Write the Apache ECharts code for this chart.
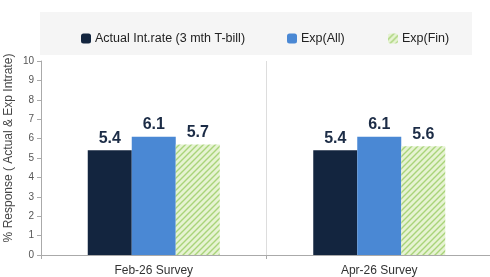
<!DOCTYPE html>
<html>
<head>
    <meta charset="UTF-8">
    <title></title>
    <script src="https://cdn.jsdelivr.net/npm/echarts@6/dist/echarts.min.js"></script>
    <style>
        * { padding: 0; margin: 0; }
        body { background: #fff; }
        #container { width: 490px; height: 277px; }
    </style>
</head>
<body>
    <div id="container"></div>
<script>
    var categories = ['Feb-26 Survey', 'Apr-26 Survey'];
    var seriesNames = ['Actual Int.rate (3 mth T-bill)', 'Exp(All)', 'Exp(Fin)'];
    var actualRate = [5.4, 5.4];
    var expAll = [6.1, 6.1];
    var expFin = [5.7, 5.6];

    var FONT = '"Liberation Sans", Arial, sans-serif';

    // hatched fill for Exp(Fin)
    function hatch() {
        var c = document.createElement('canvas');
        c.width = 6; c.height = 6;
        var ctx = c.getContext('2d');
        ctx.fillStyle = '#e6f3d2';
        ctx.fillRect(0, 0, 6, 6);
        ctx.strokeStyle = '#a9d47a';
        ctx.lineWidth = 1.4;
        ctx.beginPath();
        ctx.moveTo(0, 6); ctx.lineTo(6, 0);
        ctx.moveTo(-3, 3); ctx.lineTo(3, -3);
        ctx.moveTo(3, 9); ctx.lineTo(9, 3);
        ctx.stroke();
        return c;
    }
    var finFill = { image: hatch(), repeat: 'repeat' };

    var labelStyle = {
        show: true,
        position: 'top',
        distance: 4,
        fontFamily: FONT,
        fontSize: 16,
        fontWeight: 'bold',
        color: '#1c2c46',
        formatter: function (p) { return p.value.toFixed(1); }
    };

    // one legend per item so each sits where the reference has it
    function legendAt(left, name) {
        return {
            top: 27,
            left: left,
            itemWidth: 10,
            itemHeight: 10,
            itemGap: 0,
            textStyle: { fontFamily: FONT, fontSize: 12.5, color: '#222', padding: [0, 0, 0, -1] },
            data: [name]
        };
    }

    var chart = echarts.init(document.getElementById('container'));
    chart.setOption({
        animation: false,
        graphic: [{
            type: 'rect',
            shape: { x: 40, y: 12, width: 432, height: 43 },
            style: { fill: '#f5f5f5' },
            z: -1
        }],
        legend: [legendAt(76, seriesNames[0]), legendAt(282, seriesNames[1]), legendAt(383, seriesNames[2])],
        grid: { left: 41, right: -2, top: 61, bottom: 22, outerBoundsMode: 'none' },
        xAxis: {
            type: 'category',
            data: categories,
            axisLine: { lineStyle: { color: '#aaa' } },
            axisTick: { show: true, length: 4, lineStyle: { color: '#aaa' } },
            splitLine: { show: true, lineStyle: { color: '#ddd' } },
            axisLabel: { fontFamily: FONT, fontSize: 12, color: '#333', margin: 10 }
        },
        yAxis: {
            type: 'value',
            min: 0,
            max: 10,
            interval: 1,
            name: '% Response ( Actual & Exp Intrate)',
            nameLocation: 'middle',
            nameGap: 26,
            nameMoveOverlap: false,
            nameTextStyle: { fontFamily: FONT, fontSize: 12, color: '#444', padding: [0, 0, 0, 20] },
            axisLine: { show: true, lineStyle: { color: '#aaa' } },
            axisTick: { show: true, length: 4, lineStyle: { color: '#aaa' } },
            splitLine: { show: false },
            axisLabel: { fontFamily: FONT, fontSize: 10, color: '#555', margin: 7 }
        },
        series: [
            {
                name: seriesNames[0], type: 'bar', barWidth: 44, barGap: '0%',
                itemStyle: { color: '#13253f' }, label: labelStyle, data: actualRate
            },
            {
                name: seriesNames[1], type: 'bar', barWidth: 44, barGap: '0%',
                itemStyle: { color: '#4a88d4' }, label: labelStyle, data: expAll
            },
            {
                name: seriesNames[2], type: 'bar', barWidth: 44, barGap: '0%',
                itemStyle: { color: finFill }, label: labelStyle, data: expFin
            }
        ]
    });
</script>
</body>
</html>
